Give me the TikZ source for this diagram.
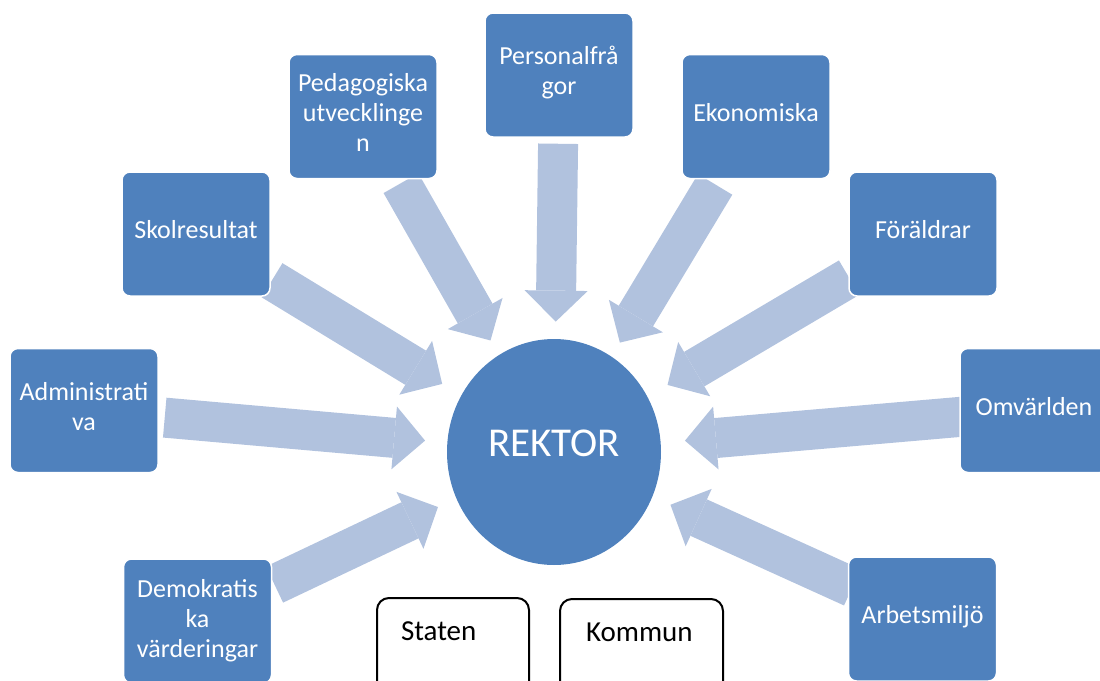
\documentclass[tikz,border=0pt]{standalone}
\usepackage{fontspec}
\setmainfont{Carlito}
\usetikzlibrary{arrows.meta,shapes.geometric}
\definecolor{boxblue}{RGB}{79,129,189}
\definecolor{arrowblue}{RGB}{177,194,222}
\pgfdeclarelayer{background}
\pgfsetlayers{background,main}
\begin{document}
\begin{tikzpicture}[x=0.5pt,y=-0.5pt,
  topic/.style={draw=white, line width=0.75pt, fill=boxblue, rounded corners=4pt,
    minimum width=74pt, minimum height=62pt, text=white, align=center,
    font=\fontsize{13}{15}\selectfont, inner sep=2pt, text depth=4.5pt},
  flow/.style={draw=arrowblue, line width=20pt,
    -{Triangle[length=15.5pt,width=31.5pt,line width=0pt]}},
  center/.style={ellipse, fill=boxblue, minimum width=107pt, minimum height=113pt,
    inner sep=0pt, text=white, font=\fontsize{20.5}{24}\selectfont, text depth=9pt},
  plain/.style={draw=black, line width=1pt, fill=white, rounded corners=6pt,
    anchor=north west, align=left, font=\fontsize{14.5}{17}\selectfont,
    inner ysep=12pt, text depth=45pt}
]
\useasboundingbox (0,0) rectangle (1100,681);

\node[topic] (skol) at (196,234) {Skolresultat};
\node[topic] (ped) at (363,116.5) {Pedagogiska\\utvecklinge\\n};
\node[topic] (pers) at (559,75) {Personalfrå\\gor};
\node[topic] (ekon) at (756,116.5) {Ekonomiska};
\node[topic] (foer) at (923,234) {Föräldrar};
\node[topic] (adm) at (84,410.5) {Administrati\\va};
\node[topic] (omv) at (1034,410.5) {Omvärlden};
\node[topic, text depth=3pt] (demo) at (197.5,621) {Demokratis\\ka\\värderingar};
\node[topic] (arb) at (922.5,619) {Arbetsmiljö};

\node[center] (rektor) at (554,452) {REKTOR};

\node[plain, inner xsep=12pt, text width=52pt] (staten) at (376,597) {Staten};
\node[plain, inner xsep=13pt, text width=55.5pt] (kommun) at (559,598) {Kommun};

\begin{pgfonlayer}{background}
\draw[flow, shorten <=0.75pt, shorten >=11pt] (skol) -- (rektor);
\draw[flow, shorten <=2.25pt, shorten >=8.25pt] (ped) -- (rektor);
\draw[flow, shorten <=3pt, shorten >=8.5pt] (pers) -- (rektor);
\draw[flow, shorten <=3pt, shorten >=8pt] (ekon) -- (rektor);
\draw[flow, shorten <=-0.5pt, shorten >=11.5pt] (foer) -- (rektor);
\draw[flow, shorten <=3pt, shorten >=11pt] (adm) -- (rektor);
\draw[flow, shorten <=-2.5pt, shorten >=12pt] (omv) -- (rektor);
\draw[flow, shorten <=1.25pt, shorten >=10pt] (demo) -- (rektor);
\draw[flow, shorten <=-2.5pt, shorten >=9.75pt] (arb) -- (rektor);
\end{pgfonlayer}
\end{tikzpicture}
\end{document}
